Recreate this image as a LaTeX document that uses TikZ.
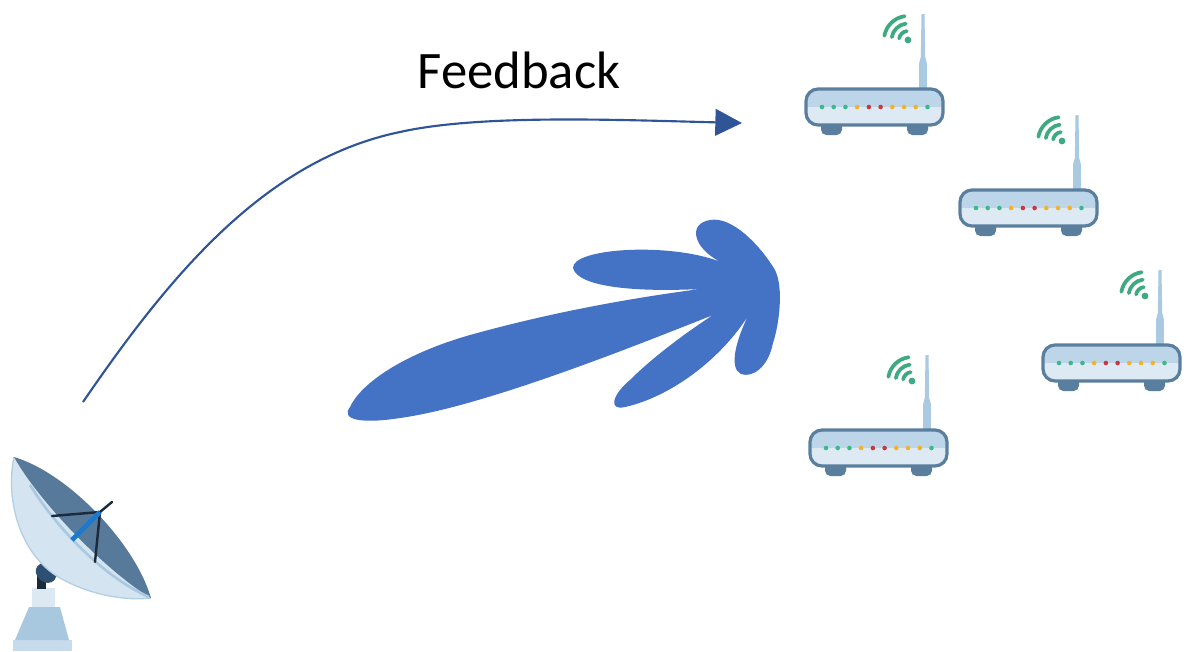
\documentclass[tikz,border=0pt]{standalone}
\usepackage{fontspec}
\setmainfont{Carlito}
\usetikzlibrary{arrows.meta}

\definecolor{beam}{HTML}{4472C4}
\definecolor{fbline}{HTML}{2F5597}
\definecolor{rframe}{HTML}{5A7E9E}
\definecolor{rtop}{HTML}{BCD5E8}
\definecolor{rlow}{HTML}{DDE9F3}
\definecolor{rant}{HTML}{A9CAE1}
\definecolor{wifi}{HTML}{3DAA80}
\definecolor{lg}{HTML}{3DB88A}
\definecolor{ly}{HTML}{F2B32A}
\definecolor{lr}{HTML}{C8393F}
\definecolor{dshell}{HTML}{D5E4F1}
\definecolor{dshellrim}{HTML}{B4CFE4}
\definecolor{dface}{HTML}{587A9A}
\definecolor{drim}{HTML}{A9C9E2}
\definecolor{dstrut}{HTML}{1B2A3A}
\definecolor{dfeed}{HTML}{1F78C8}
\definecolor{dnavy}{HTML}{2C4F72}
\definecolor{pedlight}{HTML}{DCE8F2}
\definecolor{pedmid}{HTML}{A8C8E0}
\definecolor{pedbase}{HTML}{C6DBEB}

\tikzset{
  router/.pic={
    % antenna
    \fill[rant] (115.5,-75) -- (118.5,-75) -- (119.2,-32) -- (120.8,-26) -- (120.8,0)
      -- (113.2,0) -- (113.2,-26) -- (114.8,-32) -- cycle;
    % wifi symbol
    \fill[wifi] (102,-49) circle[radius=3.4];
    \foreach \r in {9,16.5,24}
      \draw[wifi,line width=2.8pt,line cap=round]
        (102,-49) ++(190:\r) arc[start angle=190, end angle=262, radius=\r];
    % feet
    \fill[rframe,rounded corners=4pt] (15,30) rectangle (36,46);
    \fill[rframe,rounded corners=4pt] (101,30) rectangle (122,46);
    % body
    \begin{scope}
      \clip[rounded corners=9pt] (0,0) rectangle (137,36);
      \fill[rtop] (0,0) rectangle (137,18);
      \fill[rlow] (0,18) rectangle (137,36);
    \end{scope}
    \draw[rframe,line width=2.4pt,rounded corners=9pt] (0,0) rectangle (137,36);
    % status lights
    \foreach \i/\c in {0/lg,1/lg,2/lg,3/ly,4/lr,5/lr,6/ly,7/ly,8/ly,9/lg}
      \fill[\c] (16+11.72*\i,18) circle[radius=2.3];
  },
  beamfill/.style={fill=beam},
  fbarrow/.style={draw=fbline,line width=1.6pt,-{Triangle[length=20pt,width=20pt]}},
  label/.style={font=\fontsize{39.5}{45}\selectfont,text=black,inner sep=0pt}
}

\begin{document}
\begin{tikzpicture}[x=0.75pt,y=-0.75pt]
\useasboundingbox (0,0) rectangle (1188,651);

% ---- feedback link ----
\coordinate (fbstart) at (83,402);
\coordinate (fbmid) at (400,132);
\coordinate (fbend) at (742,123);
\draw[fbarrow] (fbstart) .. controls (170,275) and (265,160) .. (fbmid)
  .. controls (480,114) and (620,120) .. (fbend);
\node[label,anchor=base] (fblabel) at (519,88) {Feedback};

% ---- beam pattern ----
\fill[beamfill]
  (350,407) .. controls (360,385) and (400,355) .. (470,335)
  .. controls (560,310) and (640,297) .. (700,289)
  .. controls (640,292) and (578,288) .. (573,268)
  .. controls (572,248) and (670,242) .. (721,262)
  .. controls (695,250) and (686,224) .. (710,220)
  .. controls (732,216) and (760,245) .. (775,270)
  .. controls (784,288) and (779,325) .. (773,343)
  .. controls (768,368) and (752,378) .. (741,374)
  .. controls (728,368) and (737,338) .. (748,316)
  .. controls (720,360) and (670,397) .. (625,407)
  .. controls (608,411) and (612,395) .. (630,380)
  .. controls (655,355) and (690,330) .. (713,315)
  .. controls (620,352) and (480,407) .. (400,418)
  .. controls (362,424) and (340,420) .. (350,407) -- cycle;

% ---- routers ----
\pic (routerA) at (806,89) {router};
\pic (routerB) at (960,190) {router};
\pic (routerC) at (1043,345) {router};
\pic (routerD) at (810,430) {router};

% ---- satellite dish ----
% pedestal
\fill[pedbase] (13,640) rectangle (72,651);
\fill[pedmid] (29,607) -- (60,607) -- (69,640) -- (15,640) -- cycle;
\fill[pedlight] (32,588) rectangle (55,607);
% joint
\fill[dstrut] (37,574) rectangle (46,589);
\fill[dnavy, rotate around={-40:(46,573)}] (46,573) ellipse[x radius=11, y radius=9];
% dish back
\fill[dshell] (14,457) .. controls (5,500) and (20,555) .. (60,578)
  .. controls (90,595) and (125,601) .. (151,598)
  .. controls (107,572) and (39,502) .. (14,457) -- cycle;
\draw[dshellrim,line width=1pt] (14,457) .. controls (5,500) and (20,555) .. (60,578)
  .. controls (90,595) and (125,601) .. (151,598);
% dish face
\fill[dface] (14,457) .. controls (68,473) and (135,543) .. (151,598)
  .. controls (107,572) and (39,502) .. (14,457) -- cycle;
\draw[drim,line width=2pt] (30,485) .. controls (55,525) and (100,575) .. (149,597);
% feed struts
\coordinate (feed) at (100,512);
\draw[dstrut,line width=1.8pt,line cap=round] (52,516) -- (feed) -- (112,502);
\draw[dstrut,line width=1.8pt,line cap=round] (feed) -- (95,562);
\draw[dfeed,line width=3.5pt] (72,540) -- (feed);
\end{tikzpicture}
\end{document}
